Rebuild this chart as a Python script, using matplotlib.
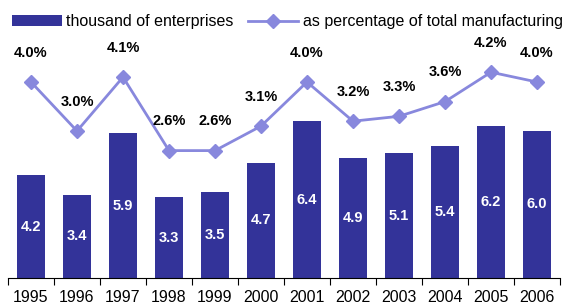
import matplotlib
matplotlib.use("Agg")
import matplotlib.pyplot as plt
import numpy as np

plt.rcParams["font.family"] = ["Liberation Sans", "DejaVu Sans"]

# ---- data ----------------------------------------------------------------
years = ["1995", "1996", "1997", "1998", "1999", "2000",
         "2001", "2002", "2003", "2004", "2005", "2006"]
enterprises = [4.2, 3.4, 5.9, 3.3, 3.5, 4.7, 6.4, 4.9, 5.1, 5.4, 6.2, 6.0]
pct_manuf = [4.0, 3.0, 4.1, 2.6, 2.6, 3.1, 4.0, 3.2, 3.3, 3.6, 4.2, 4.0]

bar_color = "#333399"
line_color = "#8888DD"

fig = plt.figure(figsize=(5.65, 3.08), dpi=100)
ax = fig.add_axes([8 / 565, 30 / 308, 552 / 565, 245 / 308])
x = np.arange(len(years))

bars = ax.bar(x, enterprises, width=0.6, color=bar_color,
              label="thousand of enterprises", zorder=2)
for xi, v in zip(x, enterprises):
    ax.text(xi, v / 2, f"{v:.1f}", ha="center", va="center",
            color="white", fontsize=10.5, fontweight="bold")

ax.set_xlim(-0.5, len(years) - 0.5)
ax.set_ylim(0, 10)
ax.set_xticks(np.arange(-0.5, len(years)), minor=False)
ax.set_xticklabels([])
ax.set_xticks(x, minor=True)
ax.set_xticklabels(years, minor=True, fontsize=11.5)
ax.tick_params(axis="x", which="major", length=5, color="black")
ax.tick_params(axis="x", which="minor", length=0, pad=9)
ax.set_yticks([])
for s in ("left", "right", "top"):
    ax.spines[s].set_visible(False)
ax.spines["bottom"].set_color("black")

ax2 = ax.twinx()
ax2.set_ylim(0, 5)
ln, = ax2.plot(x, pct_manuf, color=line_color, lw=2, marker="D",
               markersize=7, label="as percentage of total manufacturing")
for xi, v in zip(x, pct_manuf):
    ax2.annotate(f"{v:.1f}%", (xi, v), xytext=(0, 21), textcoords="offset points",
                 ha="center", va="center", fontsize=10.5, fontweight="bold")
ax2.set_yticks([])
for s in ("left", "right", "top", "bottom"):
    ax2.spines[s].set_visible(False)

fig.legend([bars, ln], [bars.get_label(), ln.get_label()],
           loc="upper left", bbox_to_anchor=(1 / 565, 1.0 - 3 / 308), ncol=2,
           frameon=False, fontsize=11.5, handlelength=3.1, handletextpad=0.3,
           columnspacing=0.9, borderaxespad=0.3)

fig.savefig("out.png", dpi=100)
